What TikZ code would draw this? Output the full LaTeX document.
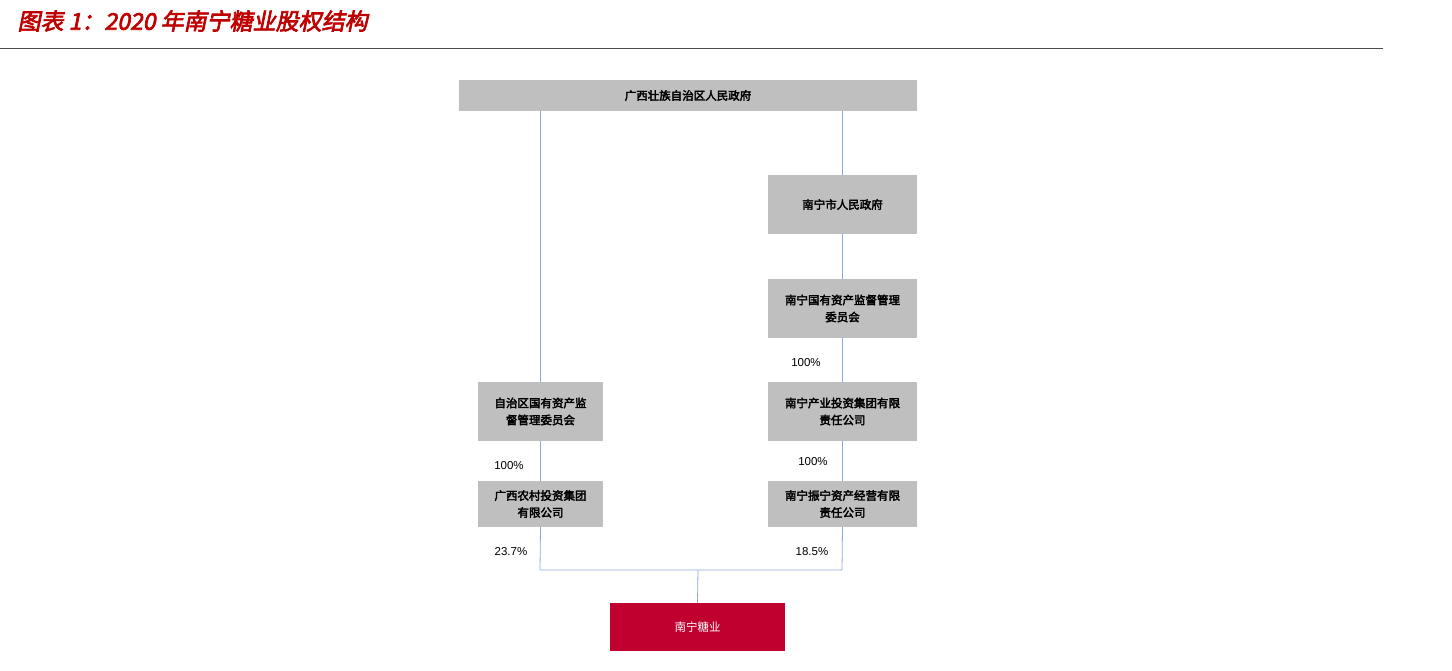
\documentclass[tikz,border=0pt]{standalone}
\usepackage{fontspec}
\setmainfont{Liberation Sans}
\newfontfamily\cjk{Noto Sans CJK SC}[AutoFakeBold=3,AutoFakeSlant=0.2]
\definecolor{boxg}{HTML}{BFBFBF}
\definecolor{lnb}{HTML}{8EA9DB}
\definecolor{redt}{HTML}{C00000}
\definecolor{redb}{HTML}{C0002E}
\begin{document}
\begin{tikzpicture}[x=1pt,y=-1pt,
  gbox/.style={fill=boxg,draw=none,inner sep=0pt,align=center,font=\cjk\bfseries\fontsize{11.5}{17}\selectfont},
  ln/.style={draw=lnb,line width=0.8pt},
  pct/.style={font=\fontsize{11.5}{13}\selectfont}]
\useasboundingbox (0,0) rectangle (1452,671);
\node[anchor=west,text=redt,font=\cjk\bfseries\itshape\fontsize{23}{26}\selectfont] (title) at (14,21) {图表 1：2020 年南宁糖业股权结构};
\draw[black!70,line width=0.6pt] (0,48) -- (1383,48);
\node[gbox,minimum width=458,minimum height=31] (gx) at (688,95.5) {广西壮族自治区人民政府};
\node[gbox,minimum width=149,minimum height=59] (nn) at (842.5,204.5) {南宁市人民政府};
\node[gbox,minimum width=149,minimum height=59] (nnw) at (842.5,308.5) {南宁国有资产监督管理\\委员会};
\node[gbox,minimum width=125,minimum height=59] (zz) at (540.5,411.5) {自治区国有资产监\\督管理委员会};
\node[gbox,minimum width=149,minimum height=59] (cy) at (842.5,411.5) {南宁产业投资集团有限\\责任公司};
\node[gbox,minimum width=125,minimum height=46] (nc) at (540.5,504) {广西农村投资集团\\有限公司};
\node[gbox,minimum width=149,minimum height=46] (zn) at (842.5,504) {南宁振宁资产经营有限\\责任公司};
\node[fill=redb,text=white,minimum width=175,minimum height=48,inner sep=0pt,font=\cjk\fontsize{11.5}{13}\selectfont] (tang) at (697.5,627) {南宁糖业};
\coordinate (jl) at (540,570);
\coordinate (jr) at (842,570);
\coordinate (jm) at (698,570);
\draw[ln] (gx.south -| zz) -- (zz.north);
\draw[ln] (gx.south -| nn) -- (nn.north);
\draw[ln] (nn) -- (nnw);
\draw[ln] (nnw) -- (cy);
\draw[ln] (cy) -- (zn);
\draw[ln] (zz) -- (nc);
\draw[ln] (nc.south) -- (jl) -- (jr) -- (zn.south);
\draw[ln] (jm) -- (tang.north);
\node[pct] (p1) at (806,363) {100\%};
\node[pct] (p2) at (509,466) {100\%};
\node[pct] (p3) at (813,462) {100\%};
\node[pct] (p4) at (511,552) {23.7\%};
\node[pct] (p5) at (812,552) {18.5\%};
\end{tikzpicture}
\end{document}
